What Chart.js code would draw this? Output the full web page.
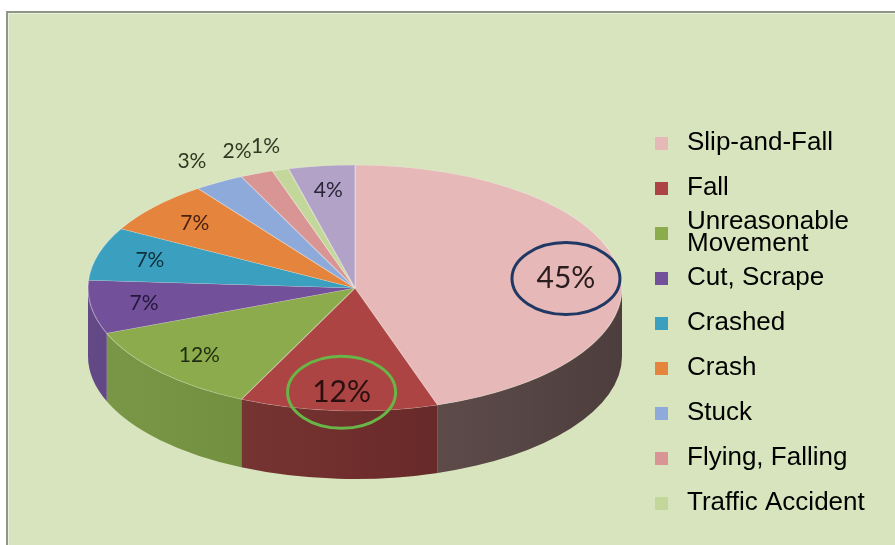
<!DOCTYPE html>
<html>
<head>
<meta charset="utf-8">
<script src="https://cdn.jsdelivr.net/npm/chart.js@4.4.1/dist/chart.umd.min.js"></script>
<style>
  html, body { margin: 0; padding: 0; background: #fff; }
  body { width: 895px; height: 545px; position: relative; overflow: hidden; }
  #panel {
    position: absolute; left: 6px; top: 11px; right: -10px; bottom: -10px;
    background: #d7e4bd;
    border-left: 2px solid #8e9688; border-top: 2px solid #8e9688;
    box-shadow: inset 1px 1px 0 #e9efdc;
  }
  #wrap { position: absolute; left: 0; top: 0; width: 895px; height: 545px; }
</style>
</head>
<body>
<div id="panel"></div>
<div id="wrap"><canvas id="chart"></canvas></div>
<script>
// data
const categories = ['Slip-and-Fall', 'Fall', ['Unreasonable', 'Movement'], 'Cut, Scrape', 'Crashed',
                    'Crash', 'Stuck', 'Flying, Falling', 'Traffic Accident', 'Other'];
const values = [45, 12, 12, 7, 7, 7, 3, 2, 1, 4];
const legendHidden = ['Other'];   // the 4% slice has no legend entry in the original
const highlighted = [0, 1];       // slices with a circled label

// styles
const topColors  = ['#e6b9b8', '#ab4442', '#8cab4c', '#72509a', '#3b9fbf', '#e5843c', '#8eaadb', '#d99594', '#c4d79b', '#b2a2c7'];
const sideColors = ['#6a5654', '#76302f', '#73923e', '#5b3f80', '#2f8099', '#c06a28', '#7088b8', '#b07574', '#9db079', '#8f80a3'];
const labelColors = ['#2b1d1d', '#2a0f0f', '#1f2b10', '#24153a', '#0f2f3a', '#4a2010', '#2e3a22', '#2e3a22', '#2e3a22', '#2a2438'];
const ringColors = { 0: '#1f3864', 1: '#6ab547' };

// projected geometry of the tilted pie
const CX = 355, CY = 288, RX = 267, RY = 123, DEPTH = 68;

function proj(a, f) {
    return { x: CX + RX * f * Math.cos(a), y: CY + RY * f * Math.sin(a) };
}

const pie3d = {
    id: 'pie3d',
    beforeDatasetsDraw(chart) {
        const ctx = chart.ctx;
        const arcs = chart.getDatasetMeta(0).data;

        // outer wall, only the front half is visible
        const grad = ctx.createLinearGradient(CX - RX, 0, CX + RX, 0);
        grad.addColorStop(0, 'rgba(255,255,255,0.05)');
        grad.addColorStop(0.5, 'rgba(0,0,0,0.06)');
        grad.addColorStop(1, 'rgba(0,0,0,0.28)');
        arcs.forEach((arc, i) => {
            const a1 = Math.max(arc.startAngle, 0);
            const a2 = Math.min(arc.endAngle, Math.PI);
            if (a1 >= a2) return;
            ctx.save();
            ctx.beginPath();
            ctx.ellipse(CX, CY, RX, RY, 0, a1, a2);
            ctx.ellipse(CX, CY + DEPTH, RX, RY, 0, a2, a1, true);
            ctx.closePath();
            ctx.fillStyle = sideColors[i];
            ctx.fill();
            ctx.fillStyle = grad;
            ctx.fill();
            ctx.restore();
        });

        // squash the flat pie into the top ellipse
        const a0 = arcs[0];
        ctx.save();
        ctx.translate(CX, CY);
        ctx.scale(RX / a0.outerRadius, RY / a0.outerRadius);
        ctx.translate(-a0.x, -a0.y);
    },
    afterDatasetsDraw(chart) {
        const ctx = chart.ctx;
        ctx.restore();
        const arcs = chart.getDatasetMeta(0).data;

        ctx.save();
        ctx.textAlign = 'center';
        ctx.textBaseline = 'middle';
        arcs.forEach((arc, i) => {
            const mid = (arc.startAngle + arc.endAngle) / 2;
            const outside = values[i] < 4;
            const p = proj(mid, outside ? 1.2 : 0.8);
            const big = highlighted.includes(i);
            if (big) p.y += 6;
            ctx.font = (big ? 30 : 21) + 'px Lato';
            ctx.fillStyle = labelColors[i];
            ctx.fillText(values[i] + '%', p.x, p.y);
            if (big) {
                ctx.beginPath();
                ctx.ellipse(p.x, p.y, 54, 36, 0, 0, Math.PI * 2);
                ctx.lineWidth = 3;
                ctx.strokeStyle = ringColors[i];
                ctx.stroke();
            }
        });
        ctx.restore();
    },
    afterDraw(chart) {
        // legend
        const ctx = chart.ctx;
        const x0 = 655, y0 = 143, step = 45;
        let row = 0;
        ctx.save();
        ctx.textAlign = 'left';
        ctx.textBaseline = 'middle';
        ctx.font = '26px "Liberation Sans", Arial, sans-serif';
        categories.forEach((name, i) => {
            if (legendHidden.includes(name)) return;
            const y = y0 + row * step;
            ctx.fillStyle = topColors[i];
            ctx.fillRect(x0, y - 6, 13, 13);
            ctx.fillStyle = '#000';
            const lines = Array.isArray(name) ? name : [name];
            lines.forEach((ln, k) => {
                ctx.fillText(ln, x0 + 32, y + (k - (lines.length - 1) / 2) * 22);
            });
            row++;
        });
        ctx.restore();
    }
};

new Chart(document.getElementById('chart'), {
    type: 'pie',
    data: {
        labels: categories,
        datasets: [{
            data: values,
            backgroundColor: topColors,
            borderColor: 'rgba(255,255,255,0.3)',
            borderWidth: 1,
            clip: false
        }]
    },
    options: {
        responsive: true,
        maintainAspectRatio: false,
        animation: false,
        layout: { padding: { left: 155, right: 340, top: 88, bottom: 57 } },
        plugins: {
            legend: { display: false },
            tooltip: { enabled: false }
        }
    },
    plugins: [pie3d]
});
</script>
</body>
</html>
